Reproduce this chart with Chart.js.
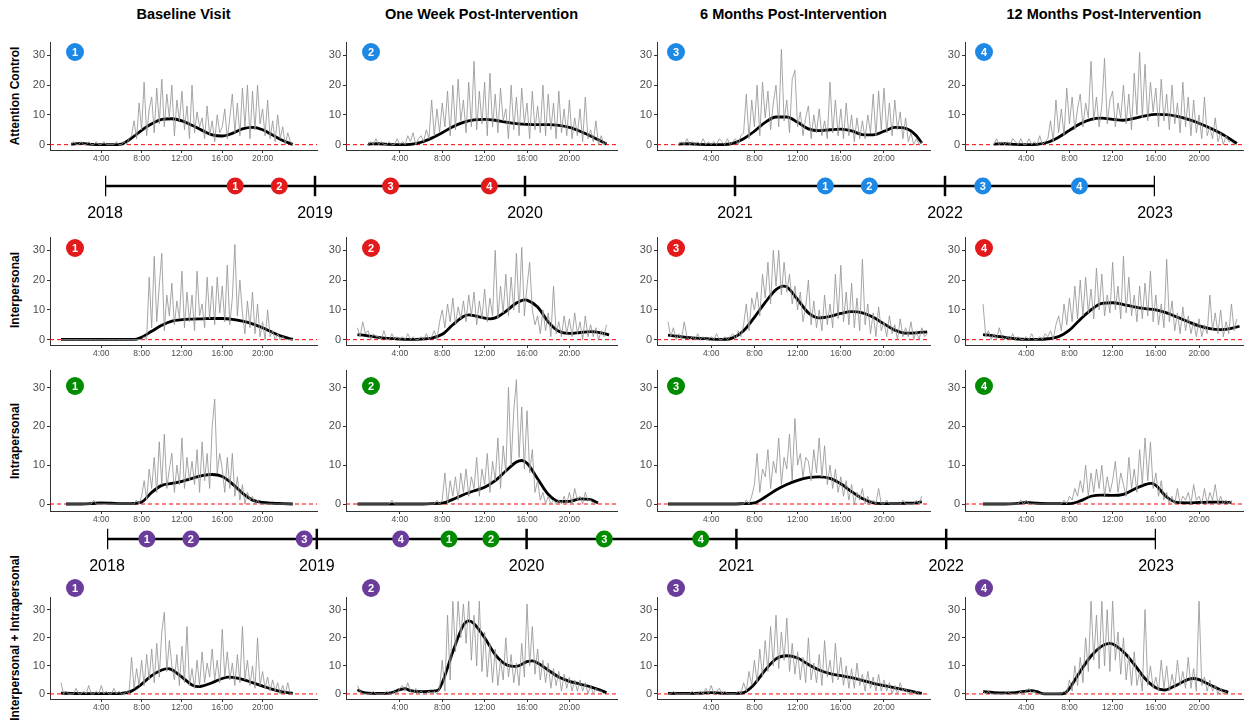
<!DOCTYPE html>
<html>
<head>
<meta charset="utf-8">
<script src="https://cdn.jsdelivr.net/npm/chart.js@4.4.1/dist/chart.umd.min.js"></script>
<style>
  body { margin: 0; background: #fff; }
  #stage { position: relative; width: 1252px; height: 724px; overflow: hidden; font-family: "Liberation Sans", Arial, sans-serif; }
  #stage canvas { position: absolute; }
  .col-title { position: absolute; top: 6px; font-weight: bold; font-size: 14.5px; transform: translateX(-50%); white-space: nowrap; color: #000; }
  .row-title { position: absolute; left: 15px; font-weight: bold; font-size: 12px; white-space: nowrap; color: #000; transform: translate(-50%, -50%) rotate(-90deg); }
</style>
</head>
<body>
<div id="stage"></div>
<script>
const COL_TITLES = ["Baseline Visit", "One Week Post-Intervention", "6 Months Post-Intervention", "12 Months Post-Intervention"];
const ROW_TITLES = ["Attention Control", "Interpersonal", "Intrapersonal", "Interpersonal + Intrapersonal"];
const ROW_COLORS = ["#1e88e5", "#e31a1c", "#008b00", "#6a3d9a"];
const VISIT_NUMBERS = ["1", "2", "3", "4"];
const HOUR_TICKS = [4, 8, 12, 16, 20];
const Y_TICKS = [0, 10, 20, 30];
const GRAY_STEP = 0.25;

const YEARS = [2018, 2019, 2020, 2021, 2022, 2023];
const TL1_INTERPERSONAL = [2018.62, 2018.83, 2019.36, 2019.83];
const TL1_ATTENTION = [2021.43, 2021.64, 2022.18, 2022.64];
const TL2_COMBINED = [2018.19, 2018.40, 2018.94, 2019.40];
const TL2_INTRAPERSONAL = [2019.63, 2019.83, 2020.37, 2020.83];

// raw activity, one value every 15 minutes from the start hour
const acBaseStart = 1;
const acBaseRaw = [0,1,0,0, 1,0,0,1, 0,0,1,0, 0,1,0,0, 0,0,1,0, 0,1,0,2, 3,8,2,14, 5,21,3,12, 16,4,19,7, 22,6,17,9,
  20,3,15,8, 18,5,13,2, 20,4,11,6, 9,2,13,3, 8,1,10,4, 6,12,2,9, 17,4,14,3, 19,6,20,2, 18,5,20,7, 12,3,15,2, 8,1,10,2, 6,0,4,1, 0];
const acWeekStart = 1;
const acWeekRaw = [0,1,0,2, 0,1,0,0, 1,0,0,2, 0,1,0,3, 1,4,0,2, 3,1,5,2, 15,3,12,4, 14,6,18,3, 20,5,22,8, 15,4,21,6,
  28,5,18,7, 21,3,24,6, 17,4,19,8, 12,2,20,5, 16,3,19,7, 14,2,18,5, 13,4,20,3, 17,5,14,2, 18,4,12,3, 15,2,9,3, 12,1,16,2, 5,1,8,0, 3,0,1];
const ac6mStart = 1;
const ac6mRaw = [0,1,0,2, 0,1,0,1, 0,2,0,1, 0,1,0,2, 1,0,2,0, 1,2,0,3, 4,17,2,15, 6,20,3,21, 9,18,5,14, 20,6,32,8,
  15,4,22,25, 6,11,3,9, 13,2,10,4, 12,3,8,2, 21,4,15,3, 12,2,14,3, 10,1,9,2, 8,2,10,4, 17,3,18,5, 19,4,14,3, 15,5,11,2, 9,1,4,0, 2,0,1];
const ac12mStart = 1;
const ac12mRaw = [0,2,0,1, 0,1,0,2, 1,0,2,0, 0,2,0,1, 0,3,0,1, 2,8,1,15, 4,12,3,19, 7,16,5,12, 17,6,14,9, 28,8,16,6,
  13,29,7,15, 18,6,14,9, 20,7,17,5, 24,10,31,9, 27,8,21,11, 19,6,22,8, 17,5,20,7, 14,4,21,6, 16,3,15,4, 10,2,16,3, 6,2,9,1, 4,0,3,1, 1,0,0];

const ipBaseStart = 0;
const ipBaseRaw = [0,0,0,0, 0,0,0,0, 0,0,0,0, 0,0,0,0, 0,0,0,0, 0,0,0,0, 0,0,0,0, 0,0,0,0, 0,1,0,21, 4,28,6,18,
  29,3,15,8, 19,5,13,7, 23,4,16,6, 15,3,23,8, 12,4,21,7, 18,5,21,9, 18,6,25,5, 14,32,8,20, 9,2,13,4, 16,2,12,1, 6,0,10,1, 3,0,2,0, 1,0,0,0, 0];
const ipWeekStart = 0;
const ipWeekRaw = [4,1,6,2, 3,0,2,1, 1,0,3,0, 0,2,0,1, 0,1,0,2, 0,1,0,0, 1,0,2,0, 1,3,0,6, 10,4,12,6, 14,5,11,7,
  13,6,15,8, 16,5,13,7, 17,6,14,8, 30,7,18,9, 22,8,21,10, 29,9,31,8, 18,26,10,5, 8,2,10,3, 9,1,18,2, 6,1,8,2, 7,1,9,2, 6,0,8,1, 5,1,4,0, 3,1,5];
const ip6mStart = 0;
const ip6mRaw = [6,1,4,0, 2,0,6,1, 0,1,0,2, 0,1,0,0, 1,0,2,0, 0,1,0,1, 2,0,3,1, 5,12,3,14, 10,16,8,22, 14,26,12,30,
  18,30,15,26, 16,22,12,18, 10,16,6,11, 20,5,13,4, 10,3,15,5, 12,4,22,7, 25,6,16,5, 19,4,14,3, 27,5,12,2, 9,1,11,3, 6,1,8,2, 5,0,7,1, 4,1,6,0, 3,0,4,1, 2];
const ip12mStart = 0;
const ip12mRaw = [12,1,3,0, 2,0,4,1, 0,1,0,2, 0,1,0,0, 1,0,2,0, 0,1,0,2, 1,3,0,5, 8,3,12,5, 14,6,18,7, 20,8,21,9,
  17,7,24,10, 22,8,15,9, 26,10,18,7, 28,9,21,8, 15,6,18,7, 19,8,23,6, 15,5,12,4, 27,6,13,3, 9,2,11,3, 8,2,6,1, 7,1,5,2, 15,3,9,2, 10,1,6,2, 12,3,7];

const iaBaseStart = 0.5;
const iaBaseRaw = [0,0, 0,0,0,0, 0,0,0,0, 0,1,0,0, 0,0,0,0, 0,0,0,0, 0,0,0,0, 0,0,1,0, 2,6,1,9, 4,12,3,16, 5,18,4,9,
  13,3,10,5, 17,4,12,6, 11,5,14,3, 16,6,13,4, 20,27,8,13, 9,3,12,4, 13,2,7,1, 5,0,3,1, 2,0,1,0, 0,0,0,0, 0,0,0,0, 0,0,0,0, 0];
const iaWeekStart = 0;
const iaWeekRaw = [0,0,0,0, 0,0,0,0, 0,0,0,0, 0,1,0,0, 0,0,0,0, 0,0,0,0, 0,0,0,0, 0,0,1,0, 1,8,0,6, 2,7,1,8,
  3,9,2,7, 4,12,2,9, 5,13,3,11, 6,17,4,15, 8,30,10,24, 32,12,25,9, 24,8,14,3, 6,1,3,0, 2,0,1,0, 1,0,2,0, 3,0,4,1, 2,0,3,1, 1,0,0];
const ia6mStart = 0;
const ia6mRaw = [0,0,0,0, 0,0,0,0, 0,0,0,0, 0,0,0,0, 0,0,0,0, 0,0,0,0, 0,0,0,0, 0,1,0,2, 5,13,3,9, 7,14,4,11,
  8,17,5,12, 9,18,6,22, 10,13,7,12, 11,6,14,8, 17,7,15,5, 10,4,9,3, 7,2,6,1, 5,0,3,1, 4,0,2,0, 1,0,4,0, 0,1,0,0, 0,0,0,1, 0,0,0,0, 1,0,2];
const ia12mStart = 0;
const ia12mRaw = [0,0,0,0, 0,0,0,0, 0,0,0,0, 0,0,1,0, 1,0,0,0, 0,0,0,0, 0,0,0,0, 0,0,1,0, 2,1,4,2, 6,3,10,2,
  8,3,9,4, 10,2,7,3, 6,11,3,8, 5,2,12,4, 9,3,14,5, 17,6,16,4, 8,2,6,1, 3,0,2,0, 4,0,2,1, 3,0,5,1, 2,0,4,0, 3,1,5,0, 2,0,1,0, 1];

const iiBaseStart = 0;
const iiBaseRaw = [4,0,1,0, 0,0,2,0, 0,1,0,3, 0,0,1,0, 3,0,1,0, 0,2,0,1, 0,0,1,0, 13,2,9,3, 12,3,14,5, 16,4,18,6,
  22,29,8,19, 10,5,14,3, 17,4,24,3, 9,2,12,3, 15,4,11,6, 16,5,12,4, 23,6,15,5, 11,3,14,4, 24,5,12,3, 10,2,20,3, 8,2,6,1, 5,1,4,0, 3,0,4,0, 0];
const iiWeekStart = 0;
const iiWeekRaw = [3,1,0,0, 0,0,1,0, 0,0,0,1, 0,0,1,0, 2,3,1,4, 1,0,2,0, 1,0,0,1, 0,1,0,2, 12,1,28,5, 33,15,33,20,
  32,18,33,12, 28,10,33,8, 22,6,18,4, 16,3,12,5, 20,6,14,4, 11,3,18,6, 32,10,24,7, 16,5,12,4, 11,2,9,3, 8,1,7,2, 6,1,5,1, 5,1,4,0, 3,0,2,1, 1,0];
const ii6mStart = 0;
const ii6mRaw = [0,0,1,0, 0,0,0,0, 0,1,0,0, 1,0,2,0, 3,0,1,2, 0,1,0,0, 0,0,1,0, 4,1,8,3, 12,4,16,6, 19,8,24,10,
  28,9,22,12, 27,8,18,7, 15,5,13,4, 20,5,11,4, 14,3,19,6, 12,4,18,5, 13,3,10,2, 9,2,11,3, 7,1,8,2, 6,1,7,1, 5,1,4,0, 3,0,4,1, 2,0,1,0, 1,0];
const ii12mStart = 0;
const ii12mRaw = [1,0,1,0, 0,0,0,0, 0,1,0,0, 0,0,1,0, 1,2,0,1, 0,0,0,0, 0,0,0,0, 0,0,1,0, 5,1,10,3, 13,4,20,8,
  33,12,28,9, 33,10,30,8, 33,12,22,7, 20,5,14,3, 15,3,8,1, 30,3,10,2, 6,1,12,2, 10,1,7,2, 12,3,8,2, 13,2,9,1, 33,3,6,1, 5,1,3,0, 2,0,1];

// smoothed trend, [hour, value]
const acBaseSmooth = [[1,0.2],[2,0.4],[3,0.1],[4,0],[5,0],[6,0.2],[7,2.2],[8,4.8],[9,7],[10,8.5],[11,8.7],[12,8],[13,6.5],[14,4.8],
  [15,3.3],[16,2.9],[17,3.8],[18,5.3],[19,5.8],[20,5],[21,3.2],[22,1.4],[23,0.1]];
const acWeekSmooth = [[1,0.2],[2,0.3],[3,0.1],[4,0],[5,0.1],[6,0.8],[7,2.2],[8,4],[9,6],[10,7.5],[11,8.3],[12,8.5],[13,8.2],[14,7.6],
  [15,7.1],[16,6.8],[17,6.7],[18,6.7],[19,6.5],[20,5.8],[21,4.5],[22,2.9],[23,1.1],[23.5,0.2]];
const ac6mSmooth = [[1,0.2],[2,0.3],[3,0.1],[4,0],[5,0],[6,0.4],[7,2],[8,4.5],[9,7.5],[10,9.3],[11,9.3],[12,7.5],[13,5.3],[14,4.7],
  [15,5],[16,5.2],[17,4.6],[18,3.4],[19,3.3],[20,4.5],[21,5.8],[22,5.5],[23,3],[23.5,0.5]];
const ac12mSmooth = [[1,0.2],[2,0.3],[3,0.1],[4,0],[5,0.1],[6,0.8],[7,2.5],[8,4.8],[9,7],[10,8.5],[11,8.9],[12,8.5],[13,8.2],[14,8.8],
  [15,9.7],[16,10.2],[17,10.1],[18,9.5],[19,8.5],[20,7.2],[21,5.6],[22,3.8],[23,1.6],[23.5,0.4]];
const ipBaseSmooth = [[0,0.1],[2,0.1],[4,0.1],[6,0.1],[7,0.1],[7.5,0.2],[8,0.8],[9,2.8],[10,4.8],[11,6.2],[12,6.7],[13,6.9],[14,7],
  [15,7.1],[16,7.1],[17,6.8],[18,6.2],[19,5.3],[20,4],[21,2.4],[22,1],[23,0.1]];
const ipWeekSmooth = [[0,1.7],[1,1.3],[2,0.8],[3,0.4],[4,0.2],[5,0.1],[6,0.2],[7,0.5],[8,1.8],[9,5],[10,7.8],[10.5,8.3],[11,8.1],
  [12,7.2],[12.5,7],[13,7.3],[14,9.5],[15,12.3],[15.8,13.4],[16,13.3],[17,11],[18,6],[19,2.8],[20,2.1],[21,2.4],[22,2.7],[23,2.3],[23.75,1.6]];
const ip6mSmooth = [[0,1.5],[1,1.1],[2,0.7],[3,0.4],[4,0.2],[5,0.1],[6,0.6],[7,3],[8,7.5],[9,12.5],[10,16.8],[10.7,18],[11,17.7],
  [12,13.5],[13,9],[14,7.3],[15,7.8],[16,8.8],[17,9.4],[18,9],[19,7.5],[20,5.3],[21,3.2],[22,2.2],[23,2.3],[24,2.6]];
const ip12mSmooth = [[0,1.7],[1,1.3],[2,0.8],[3,0.3],[4,0.1],[5,0.1],[6,0.3],[7,1],[8,3.2],[9,6.8],[10,10],[11,12.2],[12,12.4],
  [13,11.8],[14,11],[15,10.4],[16,10],[17,9],[18,7.5],[19,6],[20,4.6],[21,3.7],[22,3.4],[23,3.8],[23.75,4.5]];
const iaBaseSmooth = [[0.5,0],[2,0],[3,0.1],[4,0.3],[5,0.2],[6,0.1],[7,0.1],[8,0.5],[9,3],[10,4.8],[11,5.3],[12,5.8],[13,6.6],
  [14,7.3],[15,7.6],[16,7.1],[17,5.2],[18,2.8],[19,1],[20,0.4],[21,0.2],[22,0.1],[23,0]];
const iaWeekSmooth = [[0,0],[2,0],[4,0],[6,0],[7,0.1],[8,0.2],[9,1.2],[10,2.4],[11,3.4],[12,4.3],[13,6],[14,8.5],[15,10.8],
  [15.5,11.2],[16,10.5],[17,6.5],[18,2.5],[19,0.7],[20,0.7],[21,1.3],[22,1.1],[22.7,0.3]];
const ia6mSmooth = [[0,0],[2,0],[4,0],[6,0],[7,0.1],[8,0.3],[9,1.8],[10,3.6],[11,5],[12,6.1],[13,6.8],[14,7],[15,6.6],[16,5.2],
  [17,3.2],[18,1.4],[19,0.3],[20,0.1],[21,0.1],[22,0.2],[23,0.3],[23.5,0.6]];
const ia12mSmooth = [[0,0],[2,0],[3,0.1],[4,0.4],[5,0.2],[6,0.1],[7,0.1],[8,0.1],[9,0.8],[10,2],[11,2.3],[12,2.2],[13,2.5],
  [14,3.8],[15,5],[15.6,5.3],[16,4.8],[17,1.8],[18,0.4],[19,0.3],[20,0.4],[21,0.5],[22,0.5],[23,0.4]];
const iiBaseSmooth = [[0,0.3],[1,0.2],[2,0.1],[3,0.1],[4,0.1],[5,0.1],[6,0.2],[7,1],[8,3.5],[9,6.5],[10,8.5],[10.6,9],[11,8.6],
  [12,6],[13,3.2],[13.7,2.6],[14,2.8],[15,4],[16,5.5],[16.6,6],[17,5.9],[18,5.2],[19,4],[20,2.8],[21,1.6],[22,0.7],[23,0.2]];
const iiWeekSmooth = [[0,1.5],[0.5,0.6],[1,0.3],[2,0.2],[3,0.3],[4,1.5],[4.5,1.9],[5,1.2],[6,0.8],[7,1],[7.6,1.3],[8,4],[9,15],
  [10,24.5],[10.5,26],[11,25],[12,20],[13,14],[14,10.5],[15,9.8],[16,11.5],[16.5,11.8],[17,11],[18,8.5],[19,6],[20,4.5],[21,3.5],
  [22,2.5],[23,1.2],[23.5,0.5]];
const ii6mSmooth = [[0,0.2],[1,0.2],[2,0.2],[3,0.3],[4,0.5],[5,0.3],[6,0.2],[7,0.5],[8,3.5],[9,8.5],[10,12.5],[11,13.6],[12,12.8],
  [13,10.5],[14,8.5],[15,7.2],[16,6.5],[17,5.8],[18,4.8],[19,3.8],[20,3],[21,2.2],[22,1.4],[23,0.6],[23.5,0.2]];
const ii12mSmooth = [[0,0.8],[1,0.5],[2,0.4],[3,0.5],[4,1],[4.5,1.2],[5,0.8],[5.5,0.1],[6,0],[7,0],[7.6,0.3],[8,2],[9,8],[10,13.5],
  [11,17],[11.7,18],[12,17.8],[13,15],[14,10.5],[15,5.5],[16,2.2],[16.8,1.4],[17,1.5],[18,3.3],[19,5.2],[19.5,5.5],[20,5.1],
  [21,3.3],[22,1.5],[22.7,0.6]];

const PANELS = [
  [[acBaseStart, acBaseRaw, acBaseSmooth], [acWeekStart, acWeekRaw, acWeekSmooth], [ac6mStart, ac6mRaw, ac6mSmooth], [ac12mStart, ac12mRaw, ac12mSmooth]],
  [[ipBaseStart, ipBaseRaw, ipBaseSmooth], [ipWeekStart, ipWeekRaw, ipWeekSmooth], [ip6mStart, ip6mRaw, ip6mSmooth], [ip12mStart, ip12mRaw, ip12mSmooth]],
  [[iaBaseStart, iaBaseRaw, iaBaseSmooth], [iaWeekStart, iaWeekRaw, iaWeekSmooth], [ia6mStart, ia6mRaw, ia6mSmooth], [ia12mStart, ia12mRaw, ia12mSmooth]],
  [[iiBaseStart, iiBaseRaw, iiBaseSmooth], [iiWeekStart, iiWeekRaw, iiWeekSmooth], [ii6mStart, ii6mRaw, ii6mSmooth], [ii12mStart, ii12mRaw, ii12mSmooth]],
];

// layout (pixels)
const COL_LEFT = [50, 346, 657, 965];
const COL_RIGHT = [317, 617, 930, 1243];
const COL_XMIN = [-1.09, -1.08, -1.02, -1.67];
const COL_XMAX = [25.4, 24.49, 24.26, 24.07];
const ROW_TOP = [42, 237, 370, 597];
const ROW_BOTTOM = [150, 345, 511, 699];
const ROW_LABEL_Y = [96, 290, 441, 638];
const BADGE_DX = [25, 25, 19, 19];
const BADGE_DY = [10, 11, 16, -9];
const FONT = '"Liberation Sans", Arial, sans-serif';
const AXIS_COLOR = "#333333";
const TICK_COLOR = "#4d4d4d";

const stage = document.getElementById("stage");

function addCanvas(left, top, w, h) {
  const c = document.createElement("canvas");
  c.width = w;
  c.height = h;
  c.style.left = `${left}px`;
  c.style.top = `${top}px`;
  c.style.width = `${w}px`;
  c.style.height = `${h}px`;
  stage.appendChild(c);
  return c;
}

const zeroLine = {
  id: "zeroLine",
  beforeDatasetsDraw(chart) {
    const { ctx, chartArea, scales } = chart;
    const y = scales.y.getPixelForValue(0);
    ctx.save();
    ctx.strokeStyle = "#ff0000";
    ctx.lineWidth = 1;
    ctx.setLineDash([4, 3]);
    ctx.beginPath();
    ctx.moveTo(chartArea.left, y);
    ctx.lineTo(chartArea.right, y);
    ctx.stroke();
    ctx.restore();
  },
};

function drawBadge(ctx, x, y, r, color, text) {
  ctx.save();
  ctx.beginPath();
  ctx.arc(x, y, r, 0, Math.PI * 2);
  ctx.fillStyle = color;
  ctx.fill();
  ctx.fillStyle = "#fff";
  ctx.font = `bold 11px ${FONT}`;
  ctx.textAlign = "center";
  ctx.textBaseline = "middle";
  ctx.fillText(text, x, y + 0.5);
  ctx.restore();
}

const panelBadge = {
  id: "panelBadge",
  afterDraw(chart, args, opts) {
    const { ctx, chartArea } = chart;
    drawBadge(ctx, chartArea.left + opts.dx, chartArea.top + opts.dy, 9, opts.color, opts.text);
  },
};

const markerNumbers = {
  id: "markerNumbers",
  afterDatasetsDraw(chart) {
    chart.data.datasets.forEach((ds, i) => {
      if (!ds.numbers) return;
      chart.getDatasetMeta(i).data.forEach((pt, j) => {
        drawBadge(chart.ctx, pt.x, pt.y, 8.5, ds.backgroundColor, ds.numbers[j]);
      });
    });
  },
};

function buildPanel(row, col) {
  const PAD_L = 36, PAD_TOP = 22, PAD_R = 3, AXIS_H = 18;
  const w = COL_RIGHT[col] - COL_LEFT[col] + PAD_L + PAD_R;
  const h = ROW_BOTTOM[row] - ROW_TOP[row] + PAD_TOP + AXIS_H;
  const canvas = addCanvas(COL_LEFT[col] - PAD_L, ROW_TOP[row] - PAD_TOP, w, h);
  const [start, raw, smooth] = PANELS[row][col];

  const rawPoints = raw.map((v, i) => ({ x: start + i * GRAY_STEP, y: v }));
  const smoothPoints = smooth.map(([x, y]) => ({ x, y }));

  new Chart(canvas, {
    type: "line",
    data: {
      datasets: [
        { data: rawPoints, borderColor: "rgba(150,150,150,0.85)", borderWidth: 1, pointRadius: 0, tension: 0 },
        { data: smoothPoints, borderColor: "#000", borderWidth: 2.8, pointRadius: 0, cubicInterpolationMode: "monotone" },
      ],
    },
    options: {
      responsive: false,
      animation: false,
      events: [],
      layout: { padding: { top: PAD_TOP, right: PAD_R, left: 0, bottom: 0 } },
      plugins: {
        legend: { display: false },
        tooltip: { enabled: false },
        panelBadge: { dx: BADGE_DX[col], dy: BADGE_DY[row], color: ROW_COLORS[row], text: VISIT_NUMBERS[col] },
      },
      scales: {
        x: {
          type: "linear",
          min: COL_XMIN[col],
          max: COL_XMAX[col],
          afterFit: (s) => { s.height = AXIS_H; },
          afterBuildTicks: (s) => { s.ticks = HOUR_TICKS.map((v) => ({ value: v })); },
          ticks: { callback: (v) => `${v}:00`, font: { family: FONT, size: 8.5 }, color: TICK_COLOR, padding: 1, maxRotation: 0, autoSkip: false },
          grid: { drawOnChartArea: false, tickLength: 3, color: AXIS_COLOR },
          border: { color: AXIS_COLOR, width: 1 },
        },
        y: {
          min: -1.8,
          max: 34.5,
          afterFit: (s) => { s.width = PAD_L; },
          afterBuildTicks: (s) => { s.ticks = Y_TICKS.map((v) => ({ value: v })); },
          ticks: { font: { family: FONT, size: 11 }, color: TICK_COLOR, padding: 2 },
          grid: { drawOnChartArea: false, tickLength: 3, color: AXIS_COLOR },
          border: { color: AXIS_COLOR, width: 1 },
        },
      },
    },
    plugins: [zeroLine, panelBadge],
  });
}

function buildTimeline(lineY, leftPx, rightPx, groups) {
  const AXIS_H = 30;
  const canvas = addCanvas(0, lineY - 14, 1252, 2 + 24 + AXIS_H);
  const first = YEARS[0], last = YEARS[YEARS.length - 1];
  const datasets = [
    { type: "line", data: [{ x: first, y: 0 }, { x: last, y: 0 }], borderColor: "#000", borderWidth: 2.5, pointRadius: 0 },
    ...YEARS.map((yr) => ({ type: "line", data: [{ x: yr, y: -0.85 }, { x: yr, y: 0.85 }], borderColor: "#000", borderWidth: 2.5, pointRadius: 0 })),
    ...groups.map((g) => ({
      type: "scatter",
      data: g.dates.map((d) => ({ x: d, y: 0 })),
      backgroundColor: g.color,
      borderWidth: 0,
      pointRadius: 0,
      numbers: VISIT_NUMBERS,
    })),
  ];
  new Chart(canvas, {
    type: "scatter",
    data: { datasets },
    options: {
      responsive: false,
      animation: false,
      events: [],
      layout: { padding: { top: 2, left: leftPx, right: 1252 - rightPx, bottom: 0 } },
      plugins: { legend: { display: false }, tooltip: { enabled: false } },
      scales: {
        x: {
          type: "linear",
          min: first,
          max: last,
          afterFit: (s) => { s.height = AXIS_H; },
          afterBuildTicks: (s) => { s.ticks = YEARS.map((v) => ({ value: v })); },
          ticks: { callback: (v) => String(v), font: { family: FONT, size: 16 }, color: "#000", padding: 6, maxRotation: 0, autoSkip: false },
          grid: { display: false, drawTicks: false },
          border: { display: false },
        },
        y: { display: false, min: -1, max: 1 },
      },
    },
    plugins: [markerNumbers],
  });
}

COL_TITLES.forEach((t, c) => {
  const d = document.createElement("div");
  d.className = "col-title";
  d.textContent = t;
  d.style.left = `${(COL_LEFT[c] + COL_RIGHT[c]) / 2}px`;
  stage.appendChild(d);
});

ROW_TITLES.forEach((t, r) => {
  const d = document.createElement("div");
  d.className = "row-title";
  d.textContent = t;
  d.style.top = `${ROW_LABEL_Y[r]}px`;
  stage.appendChild(d);
});

for (let r = 0; r < 4; r++) {
  for (let c = 0; c < 4; c++) buildPanel(r, c);
}

buildTimeline(186, 105, 1155, [
  { dates: TL1_INTERPERSONAL, color: ROW_COLORS[1] },
  { dates: TL1_ATTENTION, color: ROW_COLORS[0] },
]);
buildTimeline(539, 107, 1156, [
  { dates: TL2_COMBINED, color: ROW_COLORS[3] },
  { dates: TL2_INTRAPERSONAL, color: ROW_COLORS[2] },
]);
</script>
</body>
</html>
